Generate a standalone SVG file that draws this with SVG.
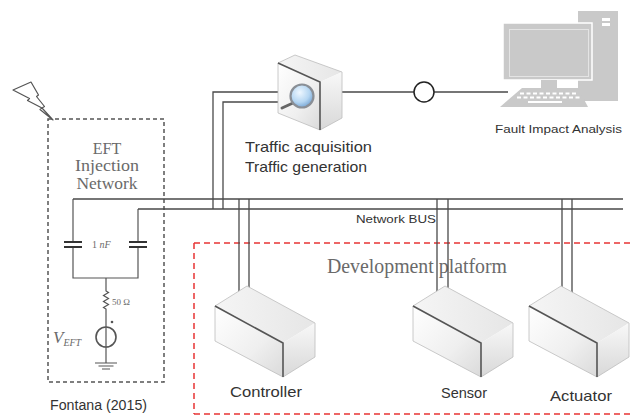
<svg xmlns="http://www.w3.org/2000/svg" xmlns:xlink="http://www.w3.org/1999/xlink" width="633" height="417" viewBox="0 0 633 417">
  <style>
    .wire { fill: none; stroke: #4a4a4a; stroke-width: 1.3; }
    .circ { fill: none; stroke: #555; stroke-width: 1.2; }
    .sans { font-family: "Liberation Sans", Arial, sans-serif; fill: #333; }
    .serif { font-family: "Liberation Serif", "Times New Roman", serif; fill: #6a6a6a; }
    .edge { fill: none; stroke: #bdbdbd; stroke-width: 0.8; }
    .dark { fill: none; stroke: #555; stroke-width: 1.6; }
    .pc { fill: #c9c9c9; }
  </style>
  <defs>
    <linearGradient id="gFront" x1="0" y1="0" x2="1" y2="1">
      <stop offset="0" stop-color="#ffffff"/>
      <stop offset="0.6" stop-color="#efefef"/>
      <stop offset="1" stop-color="#dadada"/>
    </linearGradient>
    <linearGradient id="gTop" x1="0" y1="0" x2="1" y2="0">
      <stop offset="0" stop-color="#f5f5f5"/>
      <stop offset="1" stop-color="#e6e6e6"/>
    </linearGradient>
    <linearGradient id="gSide" x1="0" y1="0" x2="0" y2="1">
      <stop offset="0" stop-color="#f8f8f8"/>
      <stop offset="1" stop-color="#d8d8d8"/>
    </linearGradient>
    <radialGradient id="gLens" cx="0.4" cy="0.35" r="0.7">
      <stop offset="0" stop-color="#eef7ff"/>
      <stop offset="0.6" stop-color="#b5d6f2"/>
      <stop offset="1" stop-color="#6f9fd0"/>
    </radialGradient>
    <!-- generic isometric module box, origin at front-left-top corner -->
    <g id="module">
      <polygon points="0,0 32,-20 100,17 68,37" fill="url(#gTop)"/>
      <polygon points="0,0 68,37 68,71 0,35" fill="url(#gFront)"/>
      <polygon points="68,37 100,17 100,51 68,71" fill="url(#gSide)"/>
      <polyline class="edge" points="0,0 32,-20 100,17 100,51 68,71 0,35 0,0"/>
      <polyline class="dark" points="0,0 68,37 68,71"/>
    </g>
  </defs>

  <!-- lightning strike -->
  <g id="lightning">
    <polygon points="13,90 31,82 38.5,95 36.5,96.5 44.5,106.5 42,108 53,120 40,109.5 42,108 27.5,100.5 29.5,98.5" fill="#fff" stroke="#555" stroke-width="1.2" stroke-linejoin="round"/>
  </g>

  <!-- EFT injection network -->
  <g id="eft-network">
    <rect x="48" y="119" width="116" height="263" fill="none" stroke="#555" stroke-width="1.5" stroke-dasharray="4,3"/>
    <text class="serif" x="107" y="154" font-size="16" text-anchor="middle">EFT</text>
    <text class="serif" x="107" y="171" font-size="16" text-anchor="middle" textLength="64" lengthAdjust="spacingAndGlyphs">Injection</text>
    <text class="serif" x="107" y="189" font-size="16" text-anchor="middle" textLength="61" lengthAdjust="spacingAndGlyphs">Network</text>
    <!-- capacitors -->
    <path class="circ" d="M73,199 V242 M73,247 V278 H138 V247 M138,242 V209"/>
    <rect x="64" y="241" width="18" height="2" fill="#333"/>
    <rect x="64" y="246" width="18" height="2" fill="#333"/>
    <rect x="129" y="241" width="18" height="2" fill="#333"/>
    <rect x="129" y="246" width="18" height="2" fill="#333"/>
    <text class="serif" x="92" y="248" font-size="10">1 <tspan font-style="italic">nF</tspan></text>
    <!-- resistor and source -->
    <path class="circ" d="M106,278 V291 l2.5,1.5 l-5,3 l5,3 l-5,3 l5,3 l-5,3 l2.5,1.5 V363"/>
    <text class="serif" x="112" y="305" font-size="9">50 Ω</text>
    <circle cx="112" cy="322" r="1.3" fill="#555"/>
    <circle cx="106" cy="337" r="10" fill="none" stroke="#555" stroke-width="1.6"/>
    <text class="serif" x="53" y="343" font-size="17" font-style="italic">V<tspan font-size="10" dy="3">EFT</tspan></text>
    <!-- ground -->
    <path class="circ" d="M95,363 H117 M98.5,366 H113.5 M102,369 H110"/>
  </g>
  <text class="sans" x="50" y="410" font-size="14" textLength="97" lengthAdjust="spacingAndGlyphs">Fontana (2015)</text>

  <!-- development platform frame -->
  <g id="dev-platform">
    <path d="M194,243 H640 M194,414 H640 M194,243 V414" fill="none" stroke="#e83535" stroke-width="1.5" stroke-dasharray="6,4"/>
    <text class="serif" x="327" y="273" font-size="20" textLength="180" lengthAdjust="spacingAndGlyphs">Development platform</text>
  </g>

  <!-- connectors -->
  <g id="connectors">
    <!-- network bus -->
    <path class="wire" d="M73,199 H623 M138,209 H623"/>
    <!-- traffic device drop -->
    <path class="wire" d="M278,92 H213 V209 M278,102 H223 V209"/>
    <!-- module drops -->
    <path class="wire" d="M239,199 V308 M249,199 V308"/>
    <path class="wire" d="M437,199 V308 M448,199 V308"/>
    <path class="wire" d="M562,199 V308 M572,199 V308"/>
    <!-- link to analysis station -->
    <path class="wire" d="M342,92 H414 M434,92 H508"/>
    <circle cx="424" cy="92" r="10" fill="none" stroke="#222" stroke-width="1.5"/>
  </g>
  <text class="sans" x="356" y="223" font-size="11" textLength="80" lengthAdjust="spacingAndGlyphs" fill="#3a3a3a">Network BUS</text>

  <!-- traffic acquisition / generation device -->
  <g id="traffic-device">
    <polygon points="278,63 295,55 342,72 320,82" fill="url(#gTop)"/>
    <polygon points="278,63 320,82 320,130 278,113" fill="url(#gFront)"/>
    <polygon points="320,82 342,72 342,118 320,130" fill="url(#gSide)"/>
    <polyline class="edge" points="278,63 295,55 342,72 342,118 320,130 278,113 278,63"/>
    <polyline class="dark" points="278,63 320,82 320,130"/>
    <line x1="293" y1="103" x2="282" y2="108" stroke="#666" stroke-width="3" stroke-linecap="round"/>
    <circle cx="302" cy="96" r="11.5" fill="url(#gLens)" stroke="#8a8f96" stroke-width="2.2"/>
    <text class="sans" x="245" y="152" font-size="15" textLength="127" lengthAdjust="spacingAndGlyphs" fill="#3d3d33">Traffic acquisition</text>
    <text class="sans" x="245" y="172" font-size="15" textLength="122" lengthAdjust="spacingAndGlyphs" fill="#3d3d33">Traffic generation</text>
  </g>

  <!-- fault impact analysis station -->
  <g id="computer">
    <rect class="pc" x="578" y="11" width="40" height="90"/>
    <rect x="602" y="18" width="8" height="3" fill="#fff"/>
    <rect x="602" y="23" width="8" height="3" fill="#fff"/>
    <rect class="pc" x="503" y="23" width="89" height="57" stroke="#fff" stroke-width="1.5"/>
    <rect x="509.5" y="29.5" width="79" height="47" fill="none" stroke="#e4e4e4" stroke-width="1"/>
    <rect class="pc" x="541" y="80" width="16" height="9"/>
    <polygon class="pc" points="522,88 578,88 588,107 500,107"/>
    <path d="M520,93.5 h58 M517,97.5 h64" stroke="#fff" stroke-width="2" stroke-dasharray="4,2.5"/>
    <rect x="528" y="101" width="34" height="2" fill="#fff"/>
    <text class="sans" x="495" y="133" font-size="11" textLength="127" lengthAdjust="spacingAndGlyphs">Fault Impact Analysis</text>
  </g>

  <!-- platform modules -->
  <g id="controller">
    <use xlink:href="#module" href="#module" x="215" y="306"/>
    <text class="sans" x="266" y="397" font-size="15" text-anchor="middle" textLength="72" lengthAdjust="spacingAndGlyphs">Controller</text>
  </g>
  <g id="sensor">
    <use xlink:href="#module" href="#module" x="413" y="306"/>
    <text class="sans" x="464" y="398" font-size="15" text-anchor="middle" textLength="46" lengthAdjust="spacingAndGlyphs">Sensor</text>
  </g>
  <g id="actuator">
    <use xlink:href="#module" href="#module" x="529" y="306"/>
    <text class="sans" x="581" y="401" font-size="15" text-anchor="middle" textLength="62" lengthAdjust="spacingAndGlyphs">Actuator</text>
  </g>
</svg>
